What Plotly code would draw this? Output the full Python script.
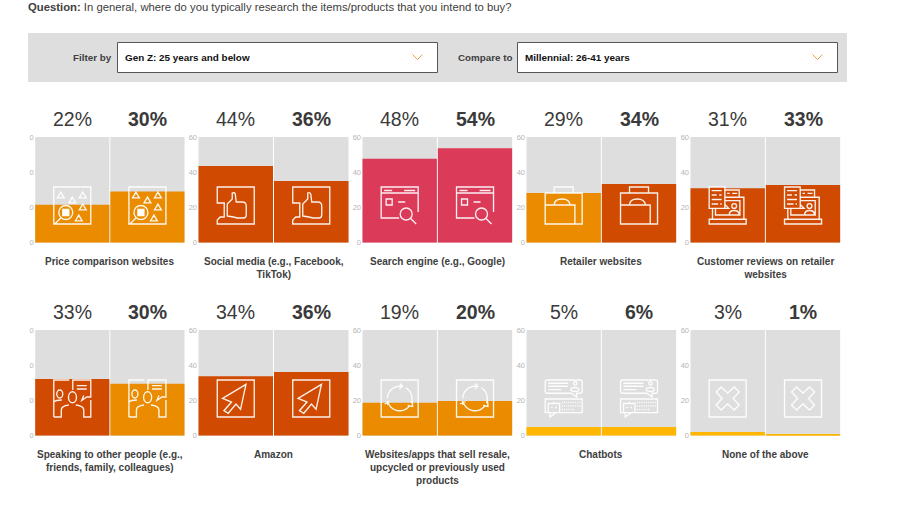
import math
import re
import plotly.graph_objects as go

# ---- data ----
series_names = ["Gen Z: 25 years and below", "Millennial: 26-41 years"]
categories = [
    "Price comparison websites",
    "Social media (e.g., Facebook,<br>TikTok)",
    "Search engine (e.g., Google)",
    "Retailer websites",
    "Customer reviews on retailer<br>websites",
    "Speaking to other people (e.g.,<br>friends, family, colleagues)",
    "Amazon",
    "Websites/apps that sell resale,<br>upcycled or previously used<br>products",
    "Chatbots",
    "None of the above",
]
# printed percentages
gen_z = [22, 44, 48, 29, 31, 33, 34, 19, 5, 3]
millennial = [30, 36, 54, 34, 33, 30, 36, 20, 6, 1]
# bar heights (the drawn bars are slightly below the printed values)
gen_z_bars = [21.6, 43.5, 47.7, 28.2, 30.9, 32.2, 33.7, 18.7, 4.9, 2.1]
millennial_bars = [29.0, 35.0, 53.6, 33.3, 32.7, 29.5, 36.1, 19.7, 4.9, 0.9]
axis_max = 60
tick_values = [0, 20, 40, 60]

ORANGE, DARK, ROSE, YELLOW = "#EB8C00", "#D04A02", "#DB3A58", "#FFB600"
gen_z_colors = [ORANGE, DARK, ROSE, ORANGE, DARK, DARK, DARK, ORANGE, YELLOW, YELLOW]
millennial_colors = [ORANGE, DARK, ROSE, DARK, DARK, ORANGE, DARK, ORANGE, YELLOW, YELLOW]

W, H = 900, 512
GREY = "#DEDEDE"
TEXT = "#404040"
panel_x = [(34.7, 185), (198, 349), (362, 512.7), (526, 676.7), (690, 840.7)]
panel_y = [(137, 242.7), (330, 435.7)]


def ellipse(cx, cy, rx, ry=None):
    ry = ry or rx
    kx, ky = 0.5523 * rx, 0.5523 * ry
    return (f"M{cx-rx:.2f},{cy} C{cx-rx:.2f},{cy-ky:.2f} {cx-kx:.2f},{cy-ry:.2f} {cx},{cy-ry:.2f} "
            f"C{cx+kx:.2f},{cy-ry:.2f} {cx+rx:.2f},{cy-ky:.2f} {cx+rx:.2f},{cy} "
            f"C{cx+rx:.2f},{cy+ky:.2f} {cx+kx:.2f},{cy+ry:.2f} {cx},{cy+ry:.2f} "
            f"C{cx-kx:.2f},{cy+ry:.2f} {cx-rx:.2f},{cy+ky:.2f} {cx-rx:.2f},{cy} Z ")


def rect(x0, y0, x1, y1):
    return f"M{x0},{y0} L{x1},{y0} L{x1},{y1} L{x0},{y1} Z "


def tri(cx, cy, s=3.4):
    return f"M{cx-s},{cy+s*0.85} L{cx},{cy-s*0.85} L{cx+s},{cy+s*0.85} Z "


def arc(cx, cy, r, a0, a1):
    steps = 14
    pts = []
    for k in range(steps + 1):
        a = math.radians(a0 + (a1 - a0) * k / steps)
        pts.append(f"{cx + r * math.cos(a):.2f},{cy + r * math.sin(a):.2f}")
    return "M" + " L".join(pts) + " "


def dots(x0, x1, y):
    out, x = "", x0
    while x < x1:
        out += f"M{x:.1f},{y} L{x + 1.1:.1f},{y} "
        x += 2.2
    return out


BOX = rect(0, 0, 37, 37)
ICONS = [
    # price comparison
    BOX + tri(7, 8) + tri(29, 8) + tri(18.5, 13) + tri(29, 20) + tri(25, 31)
    + ellipse(12, 25.5, 7) + "M7,31 L1,37 ",
    # thumbs up
    "M0,0 L37,0 L37,37 L0,37 L0,33 L3,30 L7,30 L7,16 L0,16 Z "
    "M10,17 L10,29 Q17,30 20,31 L26,31 Q29,31 29,28 L29,19 Q29,15 25,15 L19,15 "
    "L18,7 Q17,5 15,6 L15,12 L10,17 Z ",
    # search engine
    "M18,31 L0,31 L0,0 L37,0 L37,25 M0,6 L37,6 M3,3.5 L11,3.5 M23,3.5 L34,3.5 "
    + rect(5, 12, 11, 18) + "M17,15 L24,15 " + ellipse(25, 27, 6) + "M29.5,31.5 L35,37 ",
    # briefcase
    "M9,6 L9,0 L28,0 L28,6 " + rect(0, 6, 37, 37)
    + "M0,18 L29.7,18 L29.7,37 M9,18 Q9,12 17,12 Q24,12 25,18 ",
    # reviews (laptop part; the document is laid over it below)
    "M15.7,3 L30,3 L30,10.3 M18,6.3 L20.5,6.3 M23,6.3 L28,6.3 M15.7,10.3 L34.7,10.3 L34.7,32.3 "
    "M3.3,21.3 L3.3,32.3 M6.3,21.3 L6.3,28 L30.7,28 L30.7,13.7 L15.7,13.7 "
    "M0,32.3 L37,32.3 L37,37 L0,37 Z M15.7,21.3 L19.5,21.3 L15.7,17.5 "
    + ellipse(25, 19, 2.4) + "M20,28 Q20,23.5 25,23.5 Q30,23.5 30,28 ",
    # speaking to others
    "M0,37 L0,0 L15.5,0 M19,10 L19,0 L37,0 L37,17 L33,17 L28,20.5 L30,15.5 M23,5.7 L33,5.7 M23,9 L33,9 "
    "M0,37 L7.5,37 L7.5,30 Q7.5,26 15,25 M37,20 L37,37 L30,37 L30,30 Q30,26 22,25 "
    + ellipse(18.7, 17.3, 4, 5.5) + ellipse(6, 14, 3, 4) + "M0,22 Q2,20 8,20 ",
    # amazon cursor
    BOX + "M28.7,4.3 L5.3,18.3 L14.3,22 L6.7,30.7 L11,33.3 L18.7,24 L23.3,29.3 Z ",
    # resale
    BOX + arc(18.5, 18.5, 12.3, 180, 282) + arc(18.5, 18.5, 12.3, 300, 382)
    + arc(18.5, 18.5, 12.3, 40, 165)
    + "M18.5,3.5 L21.5,6.5 L18,9 M31,21 L31.5,26.5 L26.5,25.5 M6,21 L6.5,25 M3.5,24 L9,21.5 ",
    # chatbots
    "M2,0 L35,0 Q37,0 37,2 L37,11 Q37,13.3 35,13.3 L31.5,13.3 L31.5,17 L26.3,13.3 L2,13.3 Q0,13.3 0,11 L0,2 Q0,0 2,0 Z "
    "M3,3.3 L23,3.3 M3,6.3 L23,6.3 M3,9.6 L16,9.6 " + ellipse(30, 3.5, 1.7) + ellipse(29.7, 9.5, 4, 2)
    + "M0,19 L37,19 L37,32.7 L11,32.7 L4.7,37 L4.7,32.7 L0,32.7 Z " + rect(3, 23.5, 14.5, 32.7)
    + "M8.7,23.5 L8.7,21.5 M6,27.5 L7.5,27.5 M10,27.5 L11.5,27.5 "
    + dots(16.5, 35, 22.5) + dots(16.5, 35, 26) + dots(16.5, 28, 29.5),
    # none
    BOX + "M12,7 L18.5,13 L25,7 L30,12 L24,18.5 L30,25 L25,30 L18.5,24 L12,30 L7,25 L13,18.5 L7,12 Z ",
]
# parts laid over the outline: (path, fill; None means the colour of the bar below)
ICON_OVERLAYS = {
    0: (rect(9, 22.5, 15, 28.5), "#FFFFFF"),
    4: (rect(0, 0, 15.7, 21.3) + "M2.5,3.7 L12.5,3.7 M2.5,8 L7.5,8 M10,8 L12.5,8 M2.5,12.5 L12.5,12.5 M2.5,17 L9,17 M11,17 L12.5,17 ", None),
}


def to_paper(path, ox, oy):
    """Place an icon drawn in local pixels onto the page."""
    nums = iter(range(10 ** 6))

    def sub(m):
        v = float(m.group(0))
        if next(nums) % 2 == 0:
            return f"{(ox + v) / W:.5f}"
        return f"{1 - (oy + v) / H:.5f}"

    return re.sub(r"-?\d+\.?\d*", sub, path)


def paper_rect(x0, y0, x1, y1, fill, line=None, lw=0):
    return dict(type="rect", xref="paper", yref="paper", x0=x0 / W, x1=x1 / W,
                y0=1 - y0 / H, y1=1 - y1 / H, fillcolor=fill,
                line=dict(color=line or fill, width=lw), layer="below")


fig = go.Figure()
layout = {}
shapes = [
    paper_rect(28, 33, 847, 82, GREY),
    paper_rect(117.5, 42.5, 437.5, 72.5, "#FFFFFF", "#555555", 1),
    paper_rect(517.5, 42.5, 837.5, 72.5, "#FFFFFF", "#555555", 1),
]
annotations = []


def page_text(x, y, text, size, color=TEXT, anchor="left"):
    annotations.append(dict(xref="paper", yref="paper", x=x / W, y=1 - y / H, text=text,
                            showarrow=False, xanchor=anchor, yanchor="middle",
                            borderpad=0, borderwidth=0,
                            font=dict(size=size, color=color)))


page_text(28, 7, "<b>Question:</b> In general, where do you typically research the items/products that you intend to buy?", 11.3)
page_text(111.5, 57, "<b>Filter by</b>", 9.8, anchor="right")
page_text(124.5, 57, f"<b>{series_names[0]}</b>", 9.9, "#111111")
page_text(511.5, 57, "<b>Compare to</b>", 9.8, anchor="right")
page_text(525, 57, f"<b>{series_names[1]}</b>", 9.9, "#111111")
for cx in (417.5, 817.5):
    shapes.append(dict(type="path", xref="paper", yref="paper",
                       path=f"M{(cx-5)/W:.5f},{1-54.5/H:.5f} L{cx/W:.5f},{1-59.5/H:.5f} L{(cx+5)/W:.5f},{1-54.5/H:.5f}",
                       line=dict(color="#F0A040", width=1)))

LINE = dict(color="rgba(255,255,255,0.92)", width=1.35)
for i, cat in enumerate(categories):
    n = i + 1
    suffix = "" if n == 1 else str(n)
    col, row = i % 5, i // 5
    xa, ya = f"xaxis{suffix}", f"yaxis{suffix}"
    xr, yr = f"x{suffix}", f"y{suffix}"
    x0, x1 = panel_x[col]
    y0, y1 = panel_y[row]
    names = ["Gen Z", "Millennial"]
    vals = [gen_z[i], millennial[i]]
    heights = [gen_z_bars[i], millennial_bars[i]]
    bar_colors = [gen_z_colors[i], millennial_colors[i]]
    fig.add_bar(x=names, y=[axis_max, axis_max], xaxis=xr, yaxis=yr,
                marker=dict(color=GREY, line=dict(width=0)), showlegend=False, hoverinfo="skip")
    fig.add_bar(x=names, y=heights, xaxis=xr, yaxis=yr,
                marker=dict(color=bar_colors, line=dict(width=0)),
                showlegend=False)
    layout[xa] = dict(domain=[x0 / W, x1 / W], anchor=yr, visible=False, type="category",
                      range=[-0.5, 1.5], fixedrange=True)
    # the first column's tens digit is cut off by the page container in the reference
    tick_text = [str(t)[-1] for t in tick_values] if col == 0 else [str(t) for t in tick_values]
    layout[ya] = dict(domain=[1 - y1 / H, 1 - y0 / H], anchor=xr, range=[0, axis_max],
                      tickvals=tick_values, ticktext=tick_text, showgrid=False, zeroline=False,
                      showline=False, ticks="", tickfont=dict(size=7.5, color="#B5B5B5"),
                      fixedrange=True)
    for k, (cat_name, v) in enumerate(zip(names, vals)):
        label = f"{v}%"
        annotations.append(dict(xref=xr, yref=yr, x=cat_name, y=axis_max, yanchor="bottom",
                                yshift=7, showarrow=False, borderpad=0, borderwidth=0,
                                text=f"<b>{label}</b>" if k else label,
                                font=dict(size=19.5, color="#3A3A3A")))
        cx = x0 + (x1 - x0) * (0.25 + 0.5 * k)
        shapes.append(dict(type="path", xref="paper", yref="paper",
                           path=to_paper(ICONS[i], cx - 18.5, y0 + 50), line=LINE))
        if i in ICON_OVERLAYS:
            part, fill = ICON_OVERLAYS[i]
            shapes.append(dict(type="path", xref="paper", yref="paper",
                               path=to_paper(part, cx - 18.5, y0 + 50), line=LINE,
                               fillcolor=fill or bar_colors[k]))
    annotations.append(dict(xref=xr + " domain", yref=yr, x=0.5, y=0, yanchor="top", yshift=-13,
                            showarrow=False, text=f"<b>{cat}</b>", borderpad=0, borderwidth=0,
                            font=dict(size=10, color=TEXT)))

fig.update_layout(
    width=W, height=H, margin=dict(l=0, r=0, t=0, b=0, autoexpand=False),
    paper_bgcolor="#FFFFFF", plot_bgcolor="#FFFFFF",
    barmode="overlay", bargap=0.013,
    font=dict(family="Liberation Sans, Arial, sans-serif", color=TEXT),
    shapes=shapes, annotations=annotations, **layout,
)
fig.write_html("out.html", config={"displayModeBar": False},
               post_script="document.body.style.margin='0';")
